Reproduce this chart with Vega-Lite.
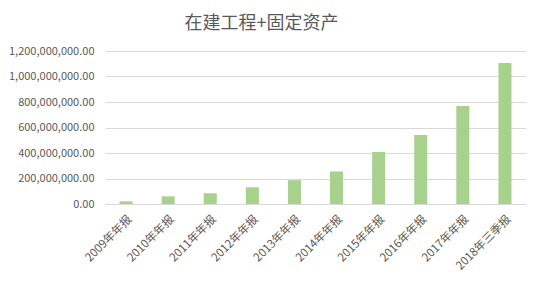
{
  "$schema": "https://vega.github.io/schema/vega-lite/v6.json",
  "autosize": "none",
  "width": 421,
  "height": 153,
  "padding": {"left": 105, "top": 51, "right": 14, "bottom": 85},
  "background": "white",
  "title": {"text": "在建工程+固定资产", "fontSize": 18, "font": "Noto Sans CJK SC", "fontWeight": "normal", "color": "#595959", "offset": 12, "anchor": "middle", "dx": -54},
  "data": {"values": [
    {"period": "2009年年报", "value": 21000000},
    {"period": "2010年年报", "value": 60000000},
    {"period": "2011年年报", "value": 84000000},
    {"period": "2012年年报", "value": 131000000},
    {"period": "2013年年报", "value": 187000000},
    {"period": "2014年年报", "value": 255000000},
    {"period": "2015年年报", "value": 408000000},
    {"period": "2016年年报", "value": 541000000},
    {"period": "2017年年报", "value": 769000000},
    {"period": "2018年三季报", "value": 1106000000}
  ]},
  "mark": {"type": "bar", "color": "#a9d18e"},
  "encoding": {
    "x": {"field": "period", "type": "nominal", "sort": null, "title": null,
      "scale": {"paddingInner": 0.69, "paddingOuter": 0.345},
      "axis": {"labelAngle": -45, "labelFontSize": 11.5, "labelFont": "Noto Sans CJK SC", "labelColor": "#595959", "ticks": false, "domainColor": "#d9d9d9", "labelPadding": 9, "labelOverlap": false}},
    "y": {"field": "value", "type": "quantitative", "title": null,
      "scale": {"domain": [0, 1200000000], "nice": false},
      "axis": {"format": ",.2f", "values": [0, 200000000, 400000000, 600000000, 800000000, 1000000000, 1200000000], "labelFontSize": 11, "labelFont": "Noto Sans CJK SC", "labelColor": "#595959", "ticks": false, "domain": false, "gridColor": "#d9d9d9", "labelPadding": 11, "labelOverlap": false}}
  },
  "config": {"view": {"stroke": null}}
}
